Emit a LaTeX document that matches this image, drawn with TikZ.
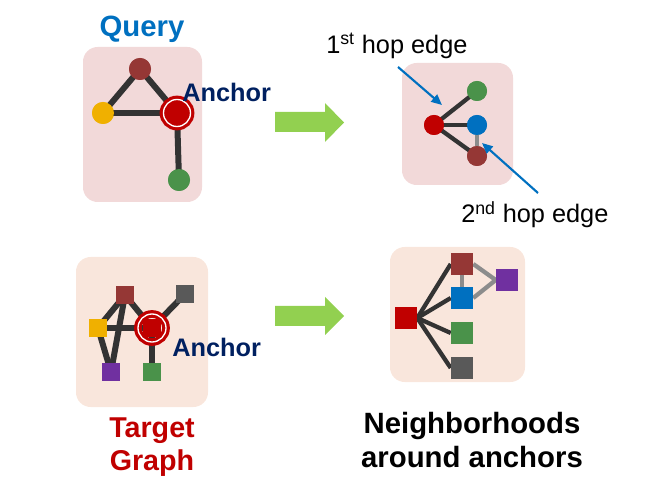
\documentclass[tikz,border=0pt]{standalone}
\usepackage{fontspec}
\setmainfont{Liberation Sans}
\usetikzlibrary{arrows.meta}
\definecolor{qbox}{HTML}{F2D9D9}
\definecolor{tbox}{HTML}{F9E6DC}
\definecolor{cdred}{HTML}{953735}
\definecolor{cyel}{HTML}{F0B000}
\definecolor{cred}{HTML}{C00000}
\definecolor{cgreen}{HTML}{4A924A}
\definecolor{cblue}{HTML}{0070C0}
\definecolor{cpurp}{HTML}{7030A0}
\definecolor{cgray}{HTML}{595959}
\definecolor{cedge}{HTML}{333333}
\definecolor{cnavy}{HTML}{002060}
\definecolor{carrow}{HTML}{92D050}
\tikzset{
  x=0.75pt, y=-0.75pt,
  panel/.style={rounded corners=11pt},
  dot/.style={circle, inner sep=0pt, minimum size=16.5pt},
  sdot/.style={circle, inner sep=0pt, minimum size=15pt},
  sq/.style={rectangle, inner sep=0pt, minimum size=13.5pt},
  bsq/.style={rectangle, inner sep=0pt, minimum size=16.5pt},
  thick edge/.style={draw=cedge, line width=4.5pt},
  mid edge/.style={draw=cedge, line width=3.2pt},
  light edge/.style={draw=gray!90, line width=3.2pt},
  ring/.style={draw=cred, line width=2.4pt, double=white, double distance=1pt},
  callout/.style={draw=cblue, line width=1.6pt, -{Triangle[length=8pt,width=7pt]}},
  bigarrow/.style={fill=carrow},
  lbl/.style={font=\fontsize{19}{22}\selectfont\bfseries, inner sep=0pt},
  hop/.style={font=\fontsize{19}{22}\selectfont, inner sep=0pt}
}
\begin{document}
\begin{tikzpicture}
\useasboundingbox (0,0) rectangle (654,499);
% ---------------- Query panel
\fill[qbox, panel] (83,47) rectangle (202,202);
\node[font=\fontsize{22}{26}\selectfont\bfseries, text=cblue, inner sep=0pt] (qt) at (142,29) {Query};
\node[dot, fill=cdred] (q1) at (140,69) {};
\node[dot, fill=cyel] (q2) at (103,113) {};
\node[dot, fill=cred] (q3) at (177,113) {};
\node[dot, fill=cgreen] (q4) at (179,180) {};
\begin{scope}[on background layer/.try]
\end{scope}
\path[thick edge] (q1.center) -- (q2.center);
\path[thick edge] (q1.center) -- (q3.center);
\path[thick edge] (q2.center) -- (q3.center);
\path[thick edge] (q3.center) -- (q4.center);
\node[dot, fill=cdred] at (q1) {};
\node[dot, fill=cyel] at (q2) {};
\node[dot, fill=cred] at (q3) {};
\node[dot, fill=cgreen] at (q4) {};
\draw[ring] (q3.center) circle (13.5);
\node[lbl, text=cnavy, anchor=west] (qa) at (182,92) {Anchor};

% ---------------- arrows
\fill[bigarrow] (275,112) -- (325,112) -- (325,103) -- (344,122.5) -- (325,142) -- (325,132) -- (275,132) -- cycle;
\fill[bigarrow] (275,306) -- (325,306) -- (325,297) -- (344,316) -- (325,335) -- (325,326) -- (275,326) -- cycle;

% ---------------- Query neighbourhood panel
\fill[qbox, panel] (402,63) rectangle (513,185);
\node[sdot, fill=cred] (n1) at (434,125) {};
\node[sdot, fill=cgreen] (n2) at (477,91) {};
\node[sdot, fill=cblue] (n3) at (477,125) {};
\node[sdot, fill=cdred] (n4) at (477,156) {};
\path[mid edge] (n1.center) -- (n2.center);
\path[mid edge] (n1.center) -- (n3.center);
\path[mid edge] (n1.center) -- (n4.center);
\path[light edge] (n3.center) -- (n4.center);
\node[sdot, fill=cred] at (n1) {};
\node[sdot, fill=cgreen] at (n2) {};
\node[sdot, fill=cblue] at (n3) {};
\node[sdot, fill=cdred] at (n4) {};
\node[hop, anchor=west] (h1) at (326,46) {1\textsuperscript{st} hop edge};
\node[hop, anchor=west] (h2) at (461,215) {2\textsuperscript{nd} hop edge};
\coordinate (h1s) at (398,67);
\coordinate (h1e) at (442,105);
\coordinate (h2s) at (538,193);
\coordinate (h2e) at (482,143);
\draw[callout] (h1s) -- (h1e);
\draw[callout] (h2s) -- (h2e);

% ---------------- Target graph panel
\fill[tbox, panel] (76,257) rectangle (208,407);
\node[sq, fill=cdred] (t1) at (125,295) {};
\node[sq, fill=cgray] (t2) at (185,294) {};
\node[sq, fill=cyel] (t3) at (98,328) {};
\node[sq, fill=cred] (t4) at (152,328) {};
\node[sq, fill=cpurp] (t5) at (111,372) {};
\node[sq, fill=cgreen] (t6) at (152,372) {};
\path[thick edge] (t1.center) -- (t3.center);
\path[thick edge] (t1.center) -- (t5.center);
\path[thick edge] (t1.center) -- (t4.center);
\path[thick edge] (t3.center) -- (t4.center);
\path[thick edge] (t3.center) -- (t5.center);
\path[thick edge] (t4.center) -- (t2.center);
\path[thick edge] (t4.center) -- (t6.center);
\node[sq, fill=cdred] at (t1) {};
\node[sq, fill=cgray] at (t2) {};
\node[sq, fill=cyel] at (t3) {};
\node[sq, fill=cred] at (t4) {};
\node[sq, fill=cpurp] at (t5) {};
\node[sq, fill=cgreen] at (t6) {};
\draw[ring] (t4.center) circle (14);
\node[lbl, text=cnavy, anchor=west] (ta) at (172,347) {Anchor};
\node[font=\fontsize{21.5}{26}\selectfont\bfseries, text=cred, align=center, inner sep=0pt] (tt) at (152,447) {Target\\[-1pt]Graph};

% ---------------- Target neighbourhood panel
\fill[tbox, panel] (390,247) rectangle (525,382);
\node[bsq, fill=cred] (m1) at (406,318) {};
\node[bsq, fill=cdred] (m2) at (462,264) {};
\node[bsq, fill=cblue] (m3) at (462,298) {};
\node[bsq, fill=cgreen] (m4) at (462,333) {};
\node[bsq, fill=cgray] (m5) at (462,368) {};
\node[bsq, fill=cpurp] (m6) at (507,280) {};
\path[mid edge] (m1.east) -- (m2.west);
\path[mid edge] (m1.east) -- (m3.west);
\path[mid edge] (m1.east) -- (m4.west);
\path[mid edge] (m1.east) -- (m5.west);
\path[light edge] (m2.center) -- (m3.center);
\path[light edge] (m2.east) -- (m6.west);
\path[light edge] (m3.east) -- (m6.west);
\node[bsq, fill=cred] at (m1) {};
\node[bsq, fill=cdred] at (m2) {};
\node[bsq, fill=cblue] at (m3) {};
\node[bsq, fill=cgreen] at (m4) {};
\node[bsq, fill=cgray] at (m5) {};
\node[bsq, fill=cpurp] at (m6) {};
\node[font=\fontsize{22}{26}\selectfont\bfseries, align=center, inner sep=0pt] (nt) at (472,440) {Neighborhoods\\[-1pt]around anchors};
\end{tikzpicture}
\end{document}
